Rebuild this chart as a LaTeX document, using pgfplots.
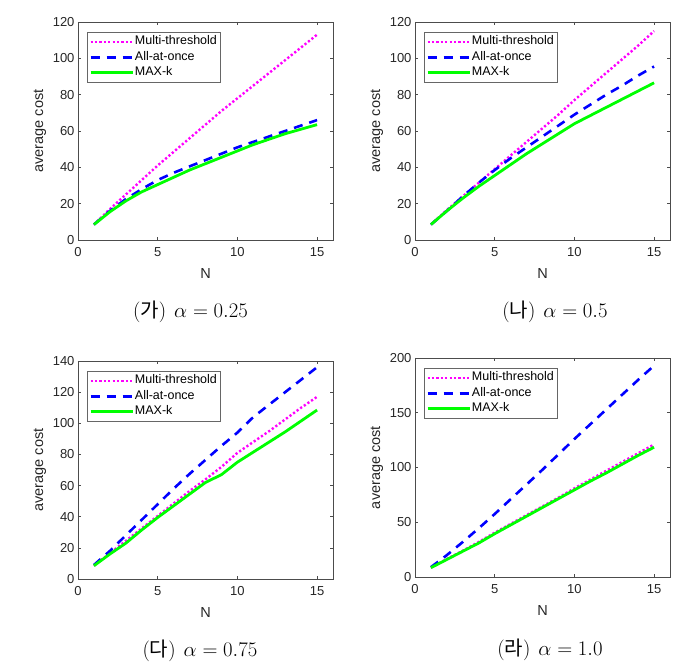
\documentclass[border=0pt]{standalone}
\usepackage{pgfplots}
\pgfplotsset{compat=1.18}
\usepackage{fontspec}
\setmainfont{Liberation Sans}
\newfontfamily\cjk{Noto Sans CJK KR}
\definecolor{mmag}{rgb}{1,0,1}
\definecolor{mblue}{rgb}{0,0,1}
\definecolor{mgreen}{rgb}{0,1,0}
\pgfplotsset{
  myaxis/.style={
    scale only axis, width=255pt, height=218pt,
    xmin=0, xmax=16, xtick={0,5,10,15}, ymin=0,
    tick align=inside, tick pos=both, major tick length=3pt,
    tick style={black!70, line width=0.5pt},
    axis line style={black!70, line width=0.6pt},
    ticklabel style={font=\fontsize{13}{15}\selectfont, text=black!85},
    xticklabel style={yshift=-4pt},
    /pgf/number format/assume math mode=true,
    xlabel={N}, ylabel={average cost},
    every axis x label/.style={at={(axis description cs:0.5,-0.152)}, anchor=center,
      font=\fontsize{14.5}{16}\selectfont, text=black!85},
    every axis y label/.style={at={(axis description cs:-0.149,0.5)}, rotate=90, anchor=center,
      font=\fontsize{14.5}{16}\selectfont, text=black!85},
    legend style={at={(axis description cs:0.035,0.954)}, anchor=north west,
      draw=black!60, fill=white, inner sep=2pt, row sep=0.5pt,
      font=\fontsize{12.5}{14}\selectfont,
      nodes={inner sep=1pt, text height=9.5pt, text depth=3.5pt}},
    legend cell align=left,
    legend image code/.code={\draw[##1] (0pt,0pt) -- (42pt,0pt);},
  },
  mt/.style={mmag, line width=2.4pt, dash pattern=on 2.2pt off 2.2pt},
  ao/.style={mblue, line width=2.6pt, dash pattern=on 9pt off 7pt},
  mk/.style={mgreen, line width=2.8pt},
}
\begin{document}
\begin{tikzpicture}[x=1pt,y=1pt]
\useasboundingbox (0,0) rectangle (696,669);
% (ga) alpha = 0.25
\begin{axis}[myaxis, at={(78pt,429pt)}, anchor=south west, ymax=120, ytick={0,20,40,60,80,100,120}]
\addplot[mt] coordinates {(1,8.5)(2,17)(3,25)(4,33)(5,41)(6,48.5)(7,56)(8,63.5)(9,71)(10,78)(11,85)(12,92)(13,99)(14,106)(15,113)};
\addlegendentry{Multi-threshold}
\addplot[ao] coordinates {(1,8.5)(2,16)(3,22.5)(4,28)(5,33)(6,37)(7,40.5)(8,44)(9,47.5)(10,51)(11,54)(12,57)(13,60)(14,63)(15,66)};
\addlegendentry{All-at-once}
\addplot[mk] coordinates {(1,8.5)(2,15.5)(3,21.5)(4,26.5)(5,30.5)(6,34.5)(7,38.5)(8,42)(9,45.5)(10,49)(11,52.5)(12,55.5)(13,58.5)(14,61)(15,63.5)};
\addlegendentry{MAX-k}
\end{axis}
% (na) alpha = 0.5
\begin{axis}[myaxis, at={(415pt,429pt)}, anchor=south west, ymax=120, ytick={0,20,40,60,80,100,120}]
\addplot[mt] coordinates {(1,8.5)(2,16.5)(3,24)(4,31.5)(5,39)(6,46.5)(7,54)(8,61.5)(9,69)(10,77)(11,84.5)(12,92)(13,99.5)(14,107)(15,115)};
\addlegendentry{Multi-threshold}
\addplot[ao] coordinates {(1,8.5)(2,16)(3,24)(4,31.5)(5,38.5)(6,45)(7,51)(8,57)(9,63)(10,69)(11,74.5)(12,80)(13,85)(14,90.5)(15,95.5)};
\addlegendentry{All-at-once}
\addplot[mk] coordinates {(1,8.5)(2,16)(3,23)(4,29.5)(5,35.5)(6,41.5)(7,47.5)(8,53)(9,58.5)(10,64)(11,68.5)(12,73)(13,77.5)(14,82)(15,86.5)};
\addlegendentry{MAX-k}
\end{axis}
% (da) alpha = 0.75
\begin{axis}[myaxis, at={(78pt,90pt)}, anchor=south west, ymax=140, ytick={0,20,40,60,80,100,120,140}]
\addplot[mt] coordinates {(1,8.5)(2,16.5)(3,24.5)(4,32.5)(5,40.5)(6,48.5)(7,56.5)(8,64)(9,72)(10,81)(11,88)(12,95)(13,102.5)(14,110)(15,117)};
\addlegendentry{Multi-threshold}
\addplot[ao] coordinates {(1,9)(2,18)(3,28)(4,38)(5,48)(6,58)(7,67.5)(8,76.5)(9,85.5)(10,94)(11,104)(12,112)(13,120)(14,128)(15,136)};
\addlegendentry{All-at-once}
\addplot[mk] coordinates {(1,8.5)(2,16)(3,23)(4,31.5)(5,39.5)(6,47)(7,54.5)(8,62)(9,67)(10,75)(11,81.5)(12,88)(13,94.5)(14,101.5)(15,108.5)};
\addlegendentry{MAX-k}
\end{axis}
% (ra) alpha = 1.0
\begin{axis}[myaxis, at={(415pt,92pt)}, anchor=south west, height=219pt, ymax=200, ytick={0,50,100,150,200}]
\addplot[mt] coordinates {(1,8.5)(2,16.5)(3,24)(4,32)(5,40.5)(6,48.5)(7,56.5)(8,64.5)(9,72.5)(10,81)(11,89)(12,97)(13,105)(14,113)(15,121)};
\addlegendentry{Multi-threshold}
\addplot[ao] coordinates {(1,9)(2,20)(3,32)(4,44.5)(5,57.5)(6,71)(7,84.5)(8,98)(9,112)(10,126)(11,139.5)(12,153)(13,166.5)(14,180)(15,193)};
\addlegendentry{All-at-once}
\addplot[mk] coordinates {(1,8.5)(2,16)(3,23.5)(4,31)(5,39.5)(6,47.5)(7,55.5)(8,63.5)(9,71.5)(10,79.5)(11,87.5)(12,95)(13,103)(14,111)(15,118.5)};
\addlegendentry{MAX-k}
\end{axis}
\begin{scope}[every node/.style={anchor=base, inner sep=0pt, font=\fontsize{20}{22}\selectfont}]
\node at (190.5,351) {\((\){\cjk 가}\()\)\hspace{8pt}\(\alpha = 0.25\)};
\node at (555,351) {\((\){\cjk 나}\()\)\hspace{8pt}\(\alpha = 0.5\)};
\node at (200,12) {\((\){\cjk 다}\()\)\hspace{8pt}\(\alpha = 0.75\)};
\node at (550,13) {\((\){\cjk 라}\()\)\hspace{8pt}\(\alpha = 1.0\)};
\end{scope}
\end{tikzpicture}
\end{document}
